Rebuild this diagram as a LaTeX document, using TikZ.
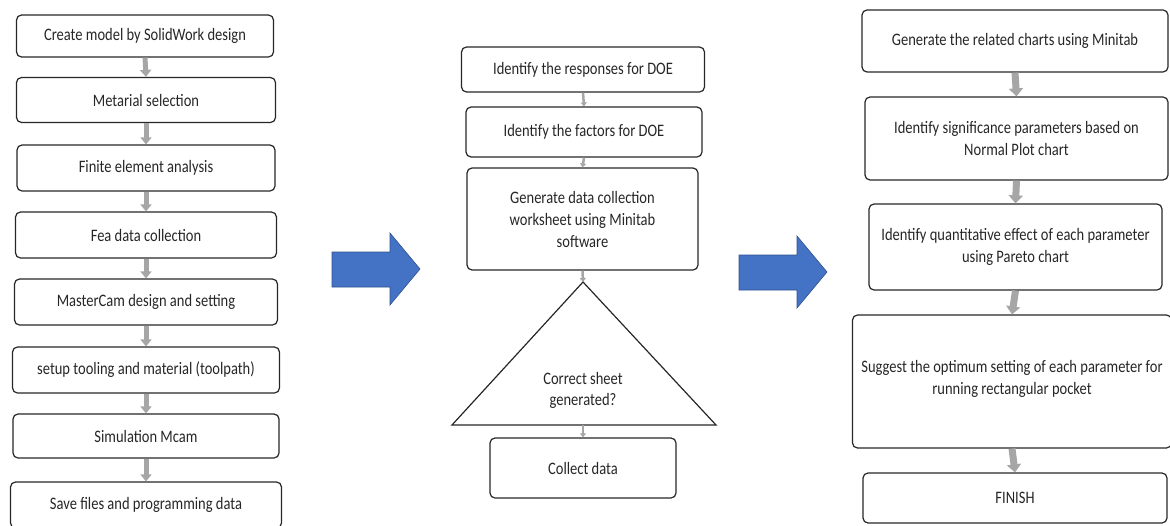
\documentclass[tikz,border=0pt]{standalone}
\usepackage{fontspec}
\setmainfont{Carlito}[FakeStretch=0.83]
\usetikzlibrary{arrows.meta}

\definecolor{officeblue}{RGB}{68,114,196}
\definecolor{blueedge}{RGB}{47,82,143}
\definecolor{linkgray}{RGB}{166,166,166}

% block arrow, tail at #1
\newcommand{\bigarrow}[1]{%
  \filldraw[fill=officeblue, draw=blueedge, line width=0.6pt, shift={#1}]
    (0,0) -- (58,0) -- (58,-19) -- (88,17) -- (58,53) -- (58,35) -- (0,35) -- cycle;}

\begin{document}
\begin{tikzpicture}[x=1pt, y=-1pt,
    stepbox/.style={draw=black!85, rounded corners=5pt, line width=1.2pt, align=center,
      inner sep=2pt, text=black!85, font=\fontsize{17.5}{22}\selectfont},
    leftlink/.style={draw=linkgray, line width=5pt, -{Triangle[width=11pt,length=7pt]}},
    midlink/.style={draw=linkgray, line width=2.5pt, -{Triangle[width=6pt,length=4pt]}},
    rightlink/.style={draw=linkgray, line width=7pt, -{Triangle[width=14pt,length=8pt]}}]
  \useasboundingbox (0,0) rectangle (1170,525);

  % left column
  \node[stepbox, minimum width=257pt, minimum height=42pt] (model) at (145,36) {Create model by SolidWork design};
  \node[stepbox, minimum width=259pt, minimum height=45pt] (mat) at (146,100) {Metarial selection};
  \node[stepbox, minimum width=258pt, minimum height=46pt] (fea) at (146,168) {Finite element analysis};
  \node[stepbox, minimum width=261pt, minimum height=46pt] (feadata) at (146,235) {Fea data collection};
  \node[stepbox, minimum width=263pt, minimum height=46pt] (mcam) at (146,302) {MasterCam design and setting};
  \node[stepbox, minimum width=267pt, minimum height=46pt] (tool) at (146,370) {setup tooling and material (toolpath)};
  \node[stepbox, minimum width=266pt, minimum height=44pt] (sim) at (146,436) {Simulation Mcam};
  \node[stepbox, minimum width=271pt, minimum height=46pt] (save) at (146,505) {Save files and programming data};

  \foreach \a/\b in {model/mat, mat/fea, fea/feadata, feadata/mcam, mcam/tool, tool/sim, sim/save}
    \draw[leftlink] (\a.south) -- (\b.north);

  % middle column
  \node[stepbox, minimum width=243pt, minimum height=45pt] (resp) at (583,69.5) {Identify the responses for DOE};
  \node[stepbox, minimum width=236pt, minimum height=50pt] (fact) at (584,132) {Identify the factors for DOE};
  \node[stepbox, minimum width=231pt, minimum height=102pt] (gen) at (582.5,219)
    {Generate data collection\\worksheet using Minitab\\software};
  \coordinate (apex) at (583,282);
  \coordinate (baseL) at (452,425);
  \coordinate (baseR) at (716,425);
  \coordinate (baseM) at (583,425);
  \draw[draw=black!85, line width=1.2pt, line join=miter] (apex) -- (baseR) -- (baseL) -- cycle;
  \node[align=center, text=black!85, font=\fontsize{17.5}{21}\selectfont] (check) at (583,390) {Correct sheet\\generated?};
  \node[stepbox, minimum width=186pt, minimum height=60pt] (collect) at (583,468) {Collect data};

  \draw[midlink] (resp.south) -- (fact.north);
  \draw[midlink] (fact.south) -- (gen.north);
  \draw[midlink] (gen.south) -- (apex);
  \draw[midlink] (baseM) -- (collect.north);

  % right column
  \node[stepbox, minimum width=306pt, minimum height=62pt] (charts) at (1015,41) {Generate the related charts using Minitab};
  \node[stepbox, minimum width=303pt, minimum height=83pt] (signif) at (1016.5,138.5)
    {Identify significance parameters based on\\Normal Plot chart};
  \node[stepbox, minimum width=293pt, minimum height=86pt] (pareto) at (1015.5,247)
    {Identify quantitative effect of each parameter\\using Pareto chart};
  \node[stepbox, minimum width=319pt, minimum height=133pt, text depth=8pt] (optimum) at (1012,381.5)
    {Suggest the optimum setting of each parameter for\\running rectangular pocket};
  \node[stepbox, minimum width=304pt, minimum height=50pt] (finish) at (1015,498) {FINISH};

  \foreach \a/\b in {charts/signif, signif/pareto, pareto/optimum, optimum/finish}
    \draw[rightlink] (\a.south) -- (\b.north);

  % big arrows between the stages
  \bigarrow{(332,252)}
  \bigarrow{(739,255)}
\end{tikzpicture}
\end{document}
